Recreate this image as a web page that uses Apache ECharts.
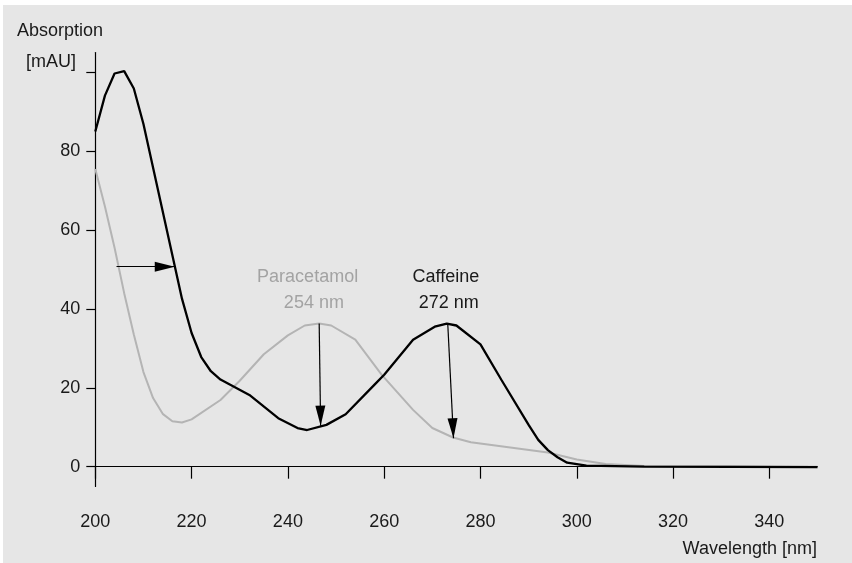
<!DOCTYPE html>
<html>
<head>
<meta charset="utf-8">
<script src="https://cdn.jsdelivr.net/npm/echarts@6/dist/echarts.min.js"></script>
<style>
  html, body { margin: 0; padding: 0; background: #ffffff; }
  #chart { width: 852px; height: 563px; }
</style>
</head>
<body>
<div id="chart"></div>
<script>
// ---- data ----
const caffeineNm  = [200, 202, 204, 206, 208, 210, 218, 220, 222, 224, 226, 232, 238, 242, 244, 248, 252, 258, 260, 266, 270.5, 273, 275, 280, 284.3, 290, 292, 294, 296, 298, 302, 314, 350];
const caffeineAbs = [85.0, 94.1, 99.7, 100.3, 95.9, 86.9, 42.6, 33.9, 27.8, 24.2, 22.1, 18.2, 12.3, 9.8, 9.3, 10.6, 13.3, 20.8, 23.3, 32.2, 35.5, 36.3, 35.8, 31.0, 22.1, 10.6, 6.8, 4.2, 2.4, 1.0, 0.25, 0, -0.1];

const paraNm  = [200, 202, 204, 206, 208, 210, 212, 214, 216, 218, 220, 226, 230, 235, 240, 243.5, 246.5, 249, 254, 259.5, 266, 270, 274.3, 278, 294, 300, 306, 314, 350];
const paraAbs = [75.5, 66.0, 55.5, 44.0, 33.5, 24.0, 17.4, 13.4, 11.5, 11.2, 12.0, 16.9, 21.8, 28.5, 33.3, 35.8, 36.3, 35.8, 32.2, 23.3, 14.4, 9.8, 7.4, 6.2, 3.6, 1.8, 0.7, 0.2, 0];

const xTicks = [200, 220, 240, 260, 280, 300, 320, 340];
const yTicks = [0, 20, 40, 60, 80, 100];
const yLabels = [0, 20, 40, 60, 80];

// arrows: [fromNm, fromAbs, toNm, toAbs]
const arrowHalfMax = [204.4, 50.7, 216.5, 50.7];
const arrowPara    = [246.5, 36.3, 246.8, 10.4];
const arrowCaff    = [273.2, 36.3, 274.4, 7.2];

// peak annotations
const paraName = 'Paracetamol', paraPeak = '254 nm';
const caffName = 'Caffeine', caffPeak = '272 nm';
const paraNamePos = [244.1, 48.0], paraPeakPos = [245.4, 41.6];
const caffNamePos = [272.8, 48.0], caffPeakPos = [273.4, 41.6];

const xTitle = 'Wavelength [nm]';
const yTitle1 = 'Absorption';
const yTitle2 = '[mAU]';

// ---- chart ----
const FONT = '"Liberation Sans", Arial, sans-serif';
const FS = 18;
const TXT = '#1a1a1a';
const GRAY_LINE = '#b4b4b4';
const GRAY_TXT = '#a3a3a3';

const zip = (a, b) => a.map((v, i) => [v, b[i]]);
const arrow = a => [{ coord: [a[0], a[1]] }, { coord: [a[2], a[3]] }];
const textPoint = (pos, text, color) => ({
  coord: pos, value: text,
  symbol: 'circle', symbolSize: 0,
  label: { show: true, position: 'inside', formatter: text, color: color,
           fontFamily: FONT, fontSize: FS }
});

const chart = echarts.init(document.getElementById('chart'), null, { renderer: 'canvas' });

chart.setOption({
  animation: false,
  backgroundColor: '#ffffff',
  textStyle: { fontFamily: FONT },
  graphic: [
    { type: 'rect', z: -10, silent: true,
      shape: { x: 3, y: 5, width: 849, height: 558 },
      style: { fill: '#e6e6e6' } },
    { type: 'text', left: 17, top: 22, silent: true,
      style: { text: yTitle1, fill: TXT, font: FS + 'px ' + FONT } },
    { type: 'text', left: 26, top: 53, silent: true,
      style: { text: yTitle2, fill: TXT, font: FS + 'px ' + FONT } },
    { type: 'text', right: 35, top: 540, silent: true,
      style: { text: xTitle, fill: TXT, font: FS + 'px ' + FONT, textAlign: 'right' } }
  ],
  grid: { left: 95.3, right: 34.5, top: 52.6, bottom: 76.6, containLabel: false },
  xAxis: {
    type: 'value', min: 200, max: 350,
    axisLine: { show: true, lineStyle: { color: '#000', width: 1.2 } },
    axisTick: { show: true, inside: false, length: 12, customValues: xTicks,
                lineStyle: { color: '#000', width: 1.2 } },
    axisLabel: { show: true, customValues: xTicks, margin: 27, color: TXT,
                 fontFamily: FONT, fontSize: FS },
    splitLine: { show: false }
  },
  yAxis: {
    type: 'value', min: -5, max: 105,
    axisLine: { show: true, lineStyle: { color: '#000', width: 1.2 } },
    axisTick: { show: true, inside: false, length: 9, customValues: yTicks,
                lineStyle: { color: '#000', width: 1.2 } },
    axisLabel: { show: true, customValues: yLabels, margin: 15, color: TXT,
                 fontFamily: FONT, fontSize: FS },
    splitLine: { show: false }
  },
  series: [
    {
      name: 'Paracetamol', type: 'line', data: zip(paraNm, paraAbs),
      showSymbol: false, smooth: false, z: 2,
      lineStyle: { color: GRAY_LINE, width: 2 },
      markPoint: {
        silent: true,
        data: [textPoint(paraNamePos, paraName, GRAY_TXT), textPoint(paraPeakPos, paraPeak, GRAY_TXT)]
      }
    },
    {
      name: 'Caffeine', type: 'line', data: zip(caffeineNm, caffeineAbs),
      showSymbol: false, smooth: false, z: 3,
      lineStyle: { color: '#000000', width: 2.3 },
      markPoint: {
        silent: true,
        data: [textPoint(caffNamePos, caffName, TXT), textPoint(caffPeakPos, caffPeak, TXT)]
      },
      markLine: {
        silent: true,
        symbol: ['none', 'triangle'],
        symbolSize: [10, 20],
        symbolOffset: [0, [0, 10]],
        label: { show: false },
        lineStyle: { color: '#000000', width: 1.2, type: 'solid' },
        emphasis: { disabled: true },
        data: [arrow(arrowHalfMax), arrow(arrowPara), arrow(arrowCaff)]
      }
    }
  ]
});
</script>
</body>
</html>
